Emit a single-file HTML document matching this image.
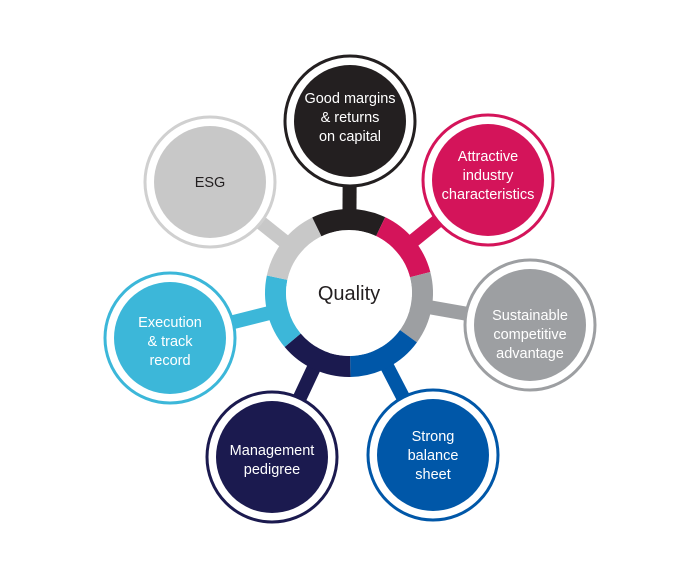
<!DOCTYPE html>
<html><head><style>
html,body{margin:0;padding:0;background:#fff}
svg{display:block}
text{font-family:"Liberation Sans",sans-serif;text-anchor:middle}
</style></head><body>
<svg width="700" height="574" viewBox="0 0 700 574">
<g stroke-width="14">
<line x1="349" y1="293" x2="350" y2="121" stroke="#231f20"/>
<line x1="349" y1="293" x2="488" y2="180" stroke="#d4145a"/>
<line x1="349" y1="293" x2="530" y2="325" stroke="#9d9fa2"/>
<line x1="349" y1="293" x2="433" y2="455" stroke="#0057a8"/>
<line x1="349" y1="293" x2="272" y2="457" stroke="#1b1a4f"/>
<line x1="349" y1="293" x2="170" y2="338" stroke="#3cb7d9"/>
<line x1="349" y1="293" x2="210" y2="182" stroke="#c8c8c8"/>
</g>
<g fill="none" stroke-width="21">
<path d="M316.78 226.94 A73.5 73.5 0 0 1 380.64 226.66" stroke="#231f20"/>
<path d="M380.64 226.66 A73.5 73.5 0 0 1 420.16 274.60" stroke="#d4145a"/>
<path d="M420.16 274.60 A73.5 73.5 0 0 1 408.46 336.20" stroke="#9d9fa2"/>
<path d="M408.46 336.20 A73.5 73.5 0 0 1 350.28 366.49" stroke="#0057a8"/>
<path d="M350.28 366.49 A73.5 73.5 0 0 1 292.70 340.24" stroke="#1b1a4f"/>
<path d="M292.70 340.24 A73.5 73.5 0 0 1 277.11 277.72" stroke="#3cb7d9"/>
<path d="M277.11 277.72 A73.5 73.5 0 0 1 316.78 226.94" stroke="#c8c8c8"/>
</g>
<circle cx="349" cy="293" r="63" fill="#fff"/>
<text x="349" y="300" font-size="20" fill="#231f20">Quality</text>

<g stroke-width="3" fill="#fff">
<circle cx="350" cy="121" r="65" stroke="#231f20"/>
<circle cx="488" cy="180" r="65" stroke="#d4145a"/>
<circle cx="530" cy="325" r="65" stroke="#9d9fa2"/>
<circle cx="433" cy="455" r="65" stroke="#0057a8"/>
<circle cx="272" cy="457" r="65" stroke="#1b1a4f"/>
<circle cx="170" cy="338" r="65" stroke="#3cb7d9"/>
<circle cx="210" cy="182" r="65" stroke="#d0d0d0"/>
</g>
<g>
<circle cx="350" cy="121" r="56" fill="#231f20"/>
<circle cx="488" cy="180" r="56" fill="#d4145a"/>
<circle cx="530" cy="325" r="56" fill="#9d9fa2"/>
<circle cx="433" cy="455" r="56" fill="#0057a8"/>
<circle cx="272" cy="457" r="56" fill="#1b1a4f"/>
<circle cx="170" cy="338" r="56" fill="#3cb7d9"/>
<circle cx="210" cy="182" r="56" fill="#c8c8c8"/>
</g>
<g font-size="14.5" fill="#fff">
<text x="350" y="103">Good margins</text><text x="350" y="122">&amp; returns</text><text x="350" y="141">on capital</text>
<text x="488" y="161">Attractive</text><text x="488" y="180">industry</text><text x="488" y="199">characteristics</text>
<text x="530" y="320">Sustainable</text><text x="530" y="339">competitive</text><text x="530" y="358">advantage</text>
<text x="433" y="441">Strong</text><text x="433" y="460">balance</text><text x="433" y="479">sheet</text>
<text x="272" y="455">Management</text><text x="272" y="474">pedigree</text>
<text x="170" y="327">Execution</text><text x="170" y="346">&amp; track</text><text x="170" y="365">record</text>
<text x="210" y="187" fill="#231f20">ESG</text>
</g>
</svg>
</body></html>
